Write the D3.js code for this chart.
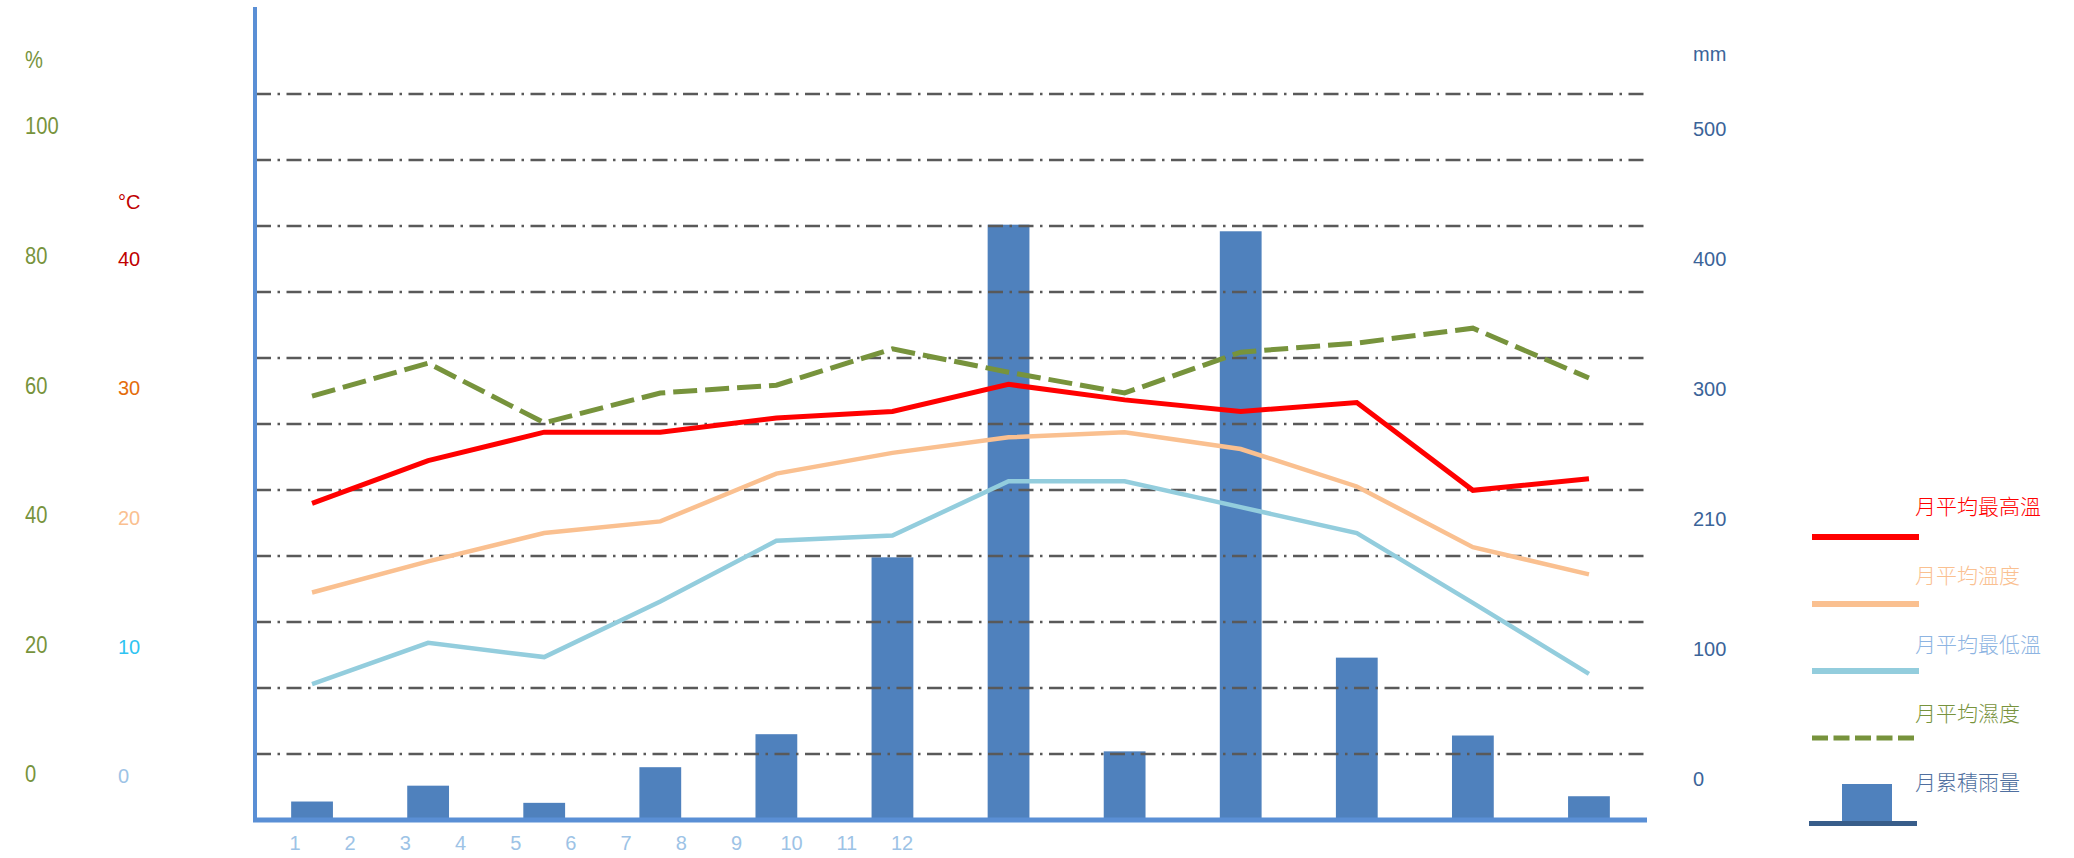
<html>
  <head>
    <meta charset="UTF-8" />
    <script src="https://cdnjs.cloudflare.com/ajax/libs/d3/7.8.5/d3.min.js"></script>
    <style>
      body { margin: 0; background: #fff; }
      text { font-family: "Liberation Sans", Arial, sans-serif; }
      .cjk { font-family: "Noto Sans CJK TC", "Noto Sans CJK SC", sans-serif; font-weight: 300; }
    </style>
  </head>
  <body>
    <svg id="chart" width="2074" height="858"></svg>
    <script>
      const months = [1, 2, 3, 4, 5, 6, 7, 8, 9, 10, 11, 12];
      const rainfall = [14, 26, 13, 40, 65, 199, 451, 52, 446, 123, 64, 18];
      const maxTemp = [21.1, 24.4, 26.6, 26.6, 27.7, 28.2, 30.3, 29.1, 28.2, 28.9, 22.1, 23.0];
      const avgTemp = [14.2, 16.6, 18.8, 19.7, 23.4, 25.0, 26.2, 26.6, 25.3, 22.4, 17.7, 15.6];
      const minTemp = [7.1, 10.3, 9.2, 13.5, 18.2, 18.6, 22.8, 22.8, 20.8, 18.8, 13.4, 7.9];
      const humidity = [58.3, 63.4, 54.2, 58.8, 60.0, 65.6, 62.0, 58.8, 65.1, 66.5, 68.8, 61.1];

      const humTicks = [0, 20, 40, 60, 80, 100];
      const tempTicks = [0, 10, 20, 30, 40];
      const tempTickColors = ["#9dc3e6", "#2fc4f2", "#fac090", "#e46c0a", "#c00000"];
      const rainTicks = [0, 100, 200, 300, 400, 500];
      const rainTickLabels = ["0", "100", "210", "300", "400", "500"];
      const gridValues = d3.range(50, 551, 50);

      const legendNames = ["月平均最高溫", "月平均溫度", "月平均最低溫", "月平均濕度", "月累積雨量"];
      const legendTextColors = ["#ff0000", "#fac090", "#8db4e2", "#77933c", "#4f6fa0"];

      const svg = d3.select("#chart");

      // scales
      const x = d3.scaleBand().domain(months).range([254, 1647]);
      const xc = d => x(d) + x.bandwidth() / 2;
      const barW = x.bandwidth() * 0.36;
      const xLabel = d3.scalePoint().domain(months).range([295, 902]);

      const yRain = d3.scaleLinear().domain([0, 550]).range([820, 94]);
      const yRainLabel = d3.scaleLinear().domain([0, 500]).range([779, 129]);
      const yTemp = d3.scaleLinear().domain([0, 40]).range([776, 259]);
      const yHum = d3.scaleLinear().domain([0, 100]).range([774, 126]);

      // bars
      svg.append("g")
        .selectAll("rect")
        .data(months)
        .enter()
        .append("rect")
        .attr("x", d => xc(d) - barW / 2)
        .attr("y", (d, i) => yRain(rainfall[i]))
        .attr("width", barW)
        .attr("height", (d, i) => yRain(0) - yRain(rainfall[i]))
        .style("fill", "#4f81bd");

      // grid
      svg.append("g")
        .selectAll("line")
        .data(gridValues)
        .enter()
        .append("line")
        .attr("x1", 256)
        .attr("x2", 1647)
        .attr("y1", d => yRain(d))
        .attr("y2", d => yRain(d))
        .style("stroke", "#595959")
        .style("stroke-width", 2.5)
        .style("stroke-dasharray", "15,6.5,2.5,6.5");

      // lines
      const series = [
        { values: humidity, y: yHum, color: "#77933c", width: 5, dash: "24,8" },
        { values: maxTemp, y: yTemp, color: "#ff0000", width: 5, dash: null },
        { values: avgTemp, y: yTemp, color: "#fac090", width: 4.5, dash: null },
        { values: minTemp, y: yTemp, color: "#93cddd", width: 4.5, dash: null }
      ];

      series.forEach(s => {
        const line = d3.line()
          .x(d => xc(d))
          .y((d, i) => s.y(s.values[i]));
        svg.append("path")
          .datum(months)
          .attr("d", line)
          .style("fill", "none")
          .style("stroke", s.color)
          .style("stroke-width", s.width)
          .style("stroke-dasharray", s.dash);
      });

      // axes
      svg.append("line")
        .attr("x1", 255).attr("x2", 255)
        .attr("y1", 7).attr("y2", 822)
        .style("stroke", "#5a8fd5")
        .style("stroke-width", 4);

      svg.append("line")
        .attr("x1", 253).attr("x2", 1647)
        .attr("y1", yRain(0)).attr("y2", yRain(0))
        .style("stroke", "#5a8fd5")
        .style("stroke-width", 5);

      // humidity labels (squeezed, the original used a narrow face)
      const humLabels = ["%"].concat(humTicks);
      svg.append("g")
        .selectAll("text")
        .data(humLabels)
        .enter()
        .append("text")
        .attr("transform", d => `translate(25, ${d === "%" ? 60 : yHum(d)}) scale(0.84, 1)`)
        .attr("dy", "0.35em")
        .style("font-size", "24px")
        .style("fill", "#77933c")
        .text(d => d);

      // temperature labels
      svg.append("text")
        .attr("x", 118).attr("y", 202).attr("dy", "0.35em")
        .style("font-size", "20px")
        .style("fill", "#c00000")
        .text("°C");

      svg.append("g")
        .selectAll("text")
        .data(tempTicks)
        .enter()
        .append("text")
        .attr("x", 118)
        .attr("y", d => yTemp(d))
        .attr("dy", "0.35em")
        .style("font-size", "20px")
        .style("fill", (d, i) => tempTickColors[i])
        .text(d => d);

      // rain labels
      svg.append("text")
        .attr("x", 1693).attr("y", 54).attr("dy", "0.35em")
        .style("font-size", "20px")
        .style("fill", "#3b6499")
        .text("mm");

      svg.append("g")
        .selectAll("text")
        .data(rainTicks)
        .enter()
        .append("text")
        .attr("x", 1693)
        .attr("y", d => yRainLabel(d))
        .attr("dy", "0.35em")
        .style("font-size", "20px")
        .style("fill", "#3b6499")
        .text((d, i) => rainTickLabels[i]);

      // month labels
      svg.append("g")
        .selectAll("text")
        .data(months)
        .enter()
        .append("text")
        .attr("x", d => xLabel(d))
        .attr("y", 843)
        .attr("dy", "0.35em")
        .attr("text-anchor", "middle")
        .style("font-size", "20px")
        .style("fill", "#9dc3e6")
        .text(d => d);

      // legend
      const legend = svg.append("g");
      legendNames.forEach((name, i) => {
        legend.append("text")
          .attr("class", "cjk")
          .attr("x", 1915)
          .attr("y", 507 + i * 69)
          .attr("dy", "0.35em")
          .style("font-size", "21px")
          .style("fill", legendTextColors[i])
          .text(name);
      });

      series.slice(1).concat(series.slice(0, 1)).forEach((s, i) => {
        legend.append("line")
          .attr("x1", 1812).attr("x2", 1919)
          .attr("y1", 537 + i * 67).attr("y2", 537 + i * 67)
          .style("stroke", s.color)
          .style("stroke-width", s.dash ? 5 : 6)
          .style("stroke-dasharray", s.dash ? "16,5.5" : null);
      });

      legend.append("rect")
        .attr("x", 1842).attr("y", 784)
        .attr("width", 50).attr("height", 42)
        .style("fill", "#4f81bd");

      legend.append("line")
        .attr("x1", 1809).attr("x2", 1917)
        .attr("y1", 823.5).attr("y2", 823.5)
        .style("stroke", "#385d8a")
        .style("stroke-width", 5);
    </script>
  </body>
</html>
